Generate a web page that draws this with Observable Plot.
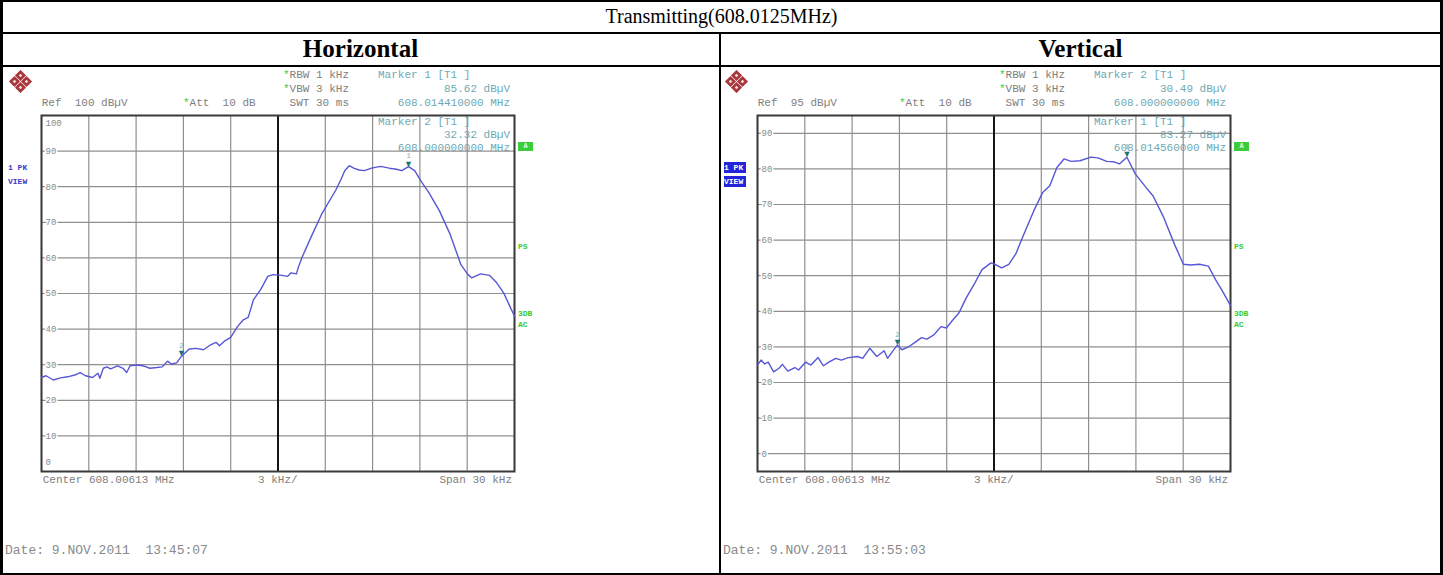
<!DOCTYPE html>
<html>
<head>
<meta charset="utf-8">
<script src="https://cdn.jsdelivr.net/npm/d3@7"></script>
<script src="https://cdn.jsdelivr.net/npm/@observablehq/plot@0.6"></script>
<style>
  body { margin: 0; background: #fff; }
  #page { position: relative; width: 1443px; height: 575px; overflow: hidden; background: #fff; }
  .rule { position: absolute; background: #000; z-index: 5; }
  .panel { position: absolute; top: 0; width: 719px; height: 575px; }
  .panel svg { position: absolute; left: 0; top: 67px; }
  .t { position: absolute; white-space: pre; font-family: "Liberation Mono", monospace; font-size: 11px; line-height: 13px; color: #808080; }
  .serif { position: absolute; font-family: "Liberation Serif", "Times New Roman", serif; color: #000; text-align: center; white-space: pre; }
</style>
</head>
<body>
<div id="page"></div>
<script>
// Spectrum analyser settings shared by both sweeps
const centerMHz = 608.00613;
const spanKHz = 30;
const divKHz = 3;
const settings = ["RBW 1 kHz", "VBW 3 kHz", "Att  10 dB", "SWT 30 ms"];

const panelTitles = ["Horizontal", "Vertical"];
const refLevels = [100, 95];
const sweepDates = ["9.NOV.2011  13:45:07", "9.NOV.2011  13:55:03"];

// Horizontal polarisation trace: offset from centre (kHz) and level (dBµV)
const hOffsetKHz = [-15.00, -14.71, -14.25, -13.80, -13.34, -12.89, -12.55, -12.21, -11.76, -11.42, -11.30, -11.08,
  -10.85, -10.62, -10.17, -9.83, -9.60, -9.38, -8.92, -8.58, -8.36, -8.13, -7.68, -7.34, -7.00, -6.77, -6.43,
  -6.13, -5.63, -5.18, -4.73, -4.27, -3.93, -3.71, -3.37, -3.00, -2.57, -2.23, -1.89, -1.55, -1.10, -0.65,
  -0.31, 0.26, 0.60, 0.83, 1.17, 1.28, 1.51, 2.08, 2.76, 3.66, 4.00, 4.23, 4.52, 4.80, 5.14, 5.48, 5.93, 6.50,
  7.06, 7.51, 7.85, 8.28, 8.67, 9.12, 9.56, 10.24, 10.92, 11.60, 12.05, 12.28, 12.85, 13.41, 13.87, 14.32, 15.00];
const hLevel = [26.4, 26.9, 25.7, 26.3, 26.6, 27.1, 27.8, 26.9, 26.4, 27.6, 26.2, 29.0,
  29.4, 28.8, 29.7, 29.0, 27.8, 29.7, 29.9, 29.7, 29.4, 29.0, 29.2, 29.4, 31.0, 30.2, 30.5,
  32.32, 34.4, 34.6, 34.2, 35.6, 36.3, 35.3, 36.7, 37.7, 40.7, 42.5, 43.3, 48.3, 51.1, 54.8,
  55.3, 55.1, 54.8, 55.8, 55.5, 57.2, 60.0, 65.7, 72.2, 79.0, 82.1, 84.5, 85.9, 85.2, 84.7, 84.5, 85.2, 85.7,
  85.2, 84.9, 84.5, 85.62, 84.5, 81.2, 78.4, 73.2, 66.6, 58.1, 55.3, 54.4, 55.5, 55.1, 53.0, 50.1, 43.6];

// Vertical polarisation trace
const vOffsetKHz = [-15.00, -14.77, -14.55, -14.32, -13.98, -13.64, -13.42, -13.08, -12.63, -12.40, -11.95, -11.61,
  -11.16, -10.82, -10.48, -10.03, -9.69, -9.24, -8.67, -8.33, -7.88, -7.43, -6.97, -6.75, -6.41, -6.13,
  -5.84, -5.39, -4.94, -4.60, -4.26, -3.81, -3.36, -3.02, -2.68, -2.23, -1.77, -1.21, -0.76, -0.19, 0.15,
  0.49, 0.94, 1.39, 1.84, 2.52, 3.09, 3.54, 3.99, 4.44, 4.89, 5.46, 6.14, 6.59, 7.15, 7.61, 7.95, 8.43,
  8.96, 9.64, 10.09, 10.77, 11.45, 12.01, 12.47, 13.03, 13.60, 14.05, 14.50, 15.00];
const vLevel = [24.9, 26.3, 25.2, 25.7, 23.0, 24.0, 25.1, 23.2, 24.2, 23.5, 25.7, 24.9,
  27.0, 24.7, 25.7, 26.8, 26.3, 27.0, 27.3, 26.8, 29.6, 27.3, 28.9, 26.8, 28.9, 30.49,
  29.2, 30.1, 31.5, 32.6, 32.2, 33.4, 35.7, 35.3, 37.2, 39.5, 43.7, 48.0, 51.7, 53.6, 53.0,
  52.2, 53.2, 56.2, 61.1, 68.2, 73.4, 75.3, 80.4, 82.8, 82.1, 82.3, 83.3, 83.1, 82.1, 82.0, 81.4, 83.27,
  78.6, 74.8, 72.4, 66.3, 58.8, 53.2, 53.0, 53.2, 52.7, 48.9, 45.6, 41.6];

// Markers: id, frequency (MHz), level (dBµV); the first is listed above the screen, the second inside it
const hMarkerId = [1, 2];
const hMarkerMHz = [608.01441, 608.000000];
const hMarkerLevel = [85.62, 32.32];
const vMarkerId = [2, 1];
const vMarkerMHz = [608.000000, 608.01456];
const vMarkerLevel = [30.49, 83.27];

// Level grid labels (dBµV)
const hYTicks = [100, 90, 80, 70, 60, 50, 40, 30, 20, 10, 0];
const vYTicks = [90, 80, 70, 60, 50, 40, 30, 20, 10, 0];

const page = document.getElementById("page");
const TEAL = "#6fa9b3";
const GREEN = "#36c936";

function el(parent, cls, css, html) {
  const d = document.createElement("div");
  if (cls) d.className = cls;
  Object.assign(d.style, css);
  if (html !== undefined) d.innerHTML = html;
  parent.appendChild(d);
  return d;
}

function put(parent, html, x, cy, o = {}) {
  const size = o.size || 11;
  const lh = size + 2;
  const css = { top: (cy - lh / 2) + "px", fontSize: size + "px", lineHeight: lh + "px" };
  if (o.align === "right") Object.assign(css, { left: (x - 400) + "px", width: "400px", textAlign: "right" });
  else if (o.align === "center") Object.assign(css, { left: (x - 200) + "px", width: "400px", textAlign: "center" });
  else css.left = x + "px";
  if (o.color) css.color = o.color;
  if (o.weight) css.fontWeight = o.weight;
  if (o.bg) css.background = o.bg;
  if (o.family) css.fontFamily = o.family;
  return el(parent, "t", css, html);
}

const star = `<span style="color:${GREEN}">*</span>`;

// instrument maker's diamond badge
function logo(parent) {
  const ns = "http://www.w3.org/2000/svg";
  const s = document.createElementNS(ns, "svg");
  s.setAttribute("width", 27); s.setAttribute("height", 23);
  Object.assign(s.style, { position: "absolute", left: "7px", top: "70px" });
  const parts = [[13.5, 5.5], [7.5, 11.5], [19.5, 11.5], [13.5, 17.5]];
  for (const [cx, cy] of parts) {
    const p = document.createElementNS(ns, "polygon");
    p.setAttribute("points", `${cx},${cy - 5.6} ${cx + 5.6},${cy} ${cx},${cy + 5.6} ${cx - 5.6},${cy}`);
    p.setAttribute("fill", "#a8363b");
    s.appendChild(p);
    const q = document.createElementNS(ns, "polygon");
    q.setAttribute("points", `${cx},${cy - 1.8} ${cx + 1.8},${cy} ${cx},${cy + 1.8} ${cx - 1.8},${cy}`);
    q.setAttribute("fill", "#f3dede");
    s.appendChild(q);
  }
  parent.appendChild(s);
}

function drawPanel(i, cfg) {
  const p = el(page, "panel", { left: (i === 0 ? 0 : 716) + "px" });
  const ref = refLevels[i];
  const mk = cfg.markerId.map((id, k) => ({
    id, mhz: cfg.markerMHz[k], level: cfg.markerLevel[k],
    x: (cfg.markerMHz[k] - centerMHz) * 1000, y: cfg.markerLevel[k]
  }));
  const trace = cfg.offsets.map((x, k) => ({ x, y: cfg.levels[k] }));
  const xTicks = d3.range(-spanKHz / 2, spanKHz / 2 + 1e-9, divKHz);
  const yTicks = cfg.yTicks;
  const yMin = ref - 100;

  // readout of the second marker sits inside the screen, beneath the graticule
  const m2 = mk[1];
  put(p, `Marker ${m2.id} [T1 ]`, 378, 122, { color: TEAL });
  put(p, `${m2.level.toFixed(2)} dBµV`, 510, 135, { color: TEAL, align: "right" });
  put(p, `${m2.mhz.toFixed(9)} MHz`, 510, 148, { color: TEAL, align: "right" });

  const labelStyle = { fontFamily: "Liberation Mono", fontSize: 9, fill: "#8a8a8a", stroke: "white", strokeWidth: 3, textAnchor: "start", frameAnchor: "left", dx: 4 };
  const chart = Plot.plot({
    width: 719, height: 506,
    marginLeft: 41, marginRight: 205, marginTop: 48, marginBottom: 102,
    x: { domain: [-spanKHz / 2, spanKHz / 2], axis: null },
    y: { domain: [yMin, ref], axis: null },
    style: { background: "transparent", overflow: "visible" },
    marks: [
      Plot.ruleY(yTicks, { stroke: "#8f8f8f", strokeWidth: 1.2 }),
      Plot.ruleX(xTicks.filter(d => d !== 0), { stroke: "#8f8f8f", strokeWidth: 1.2 }),
      Plot.ruleX([0], { stroke: "#151515", strokeWidth: 2 }),
      Plot.frame({ stroke: "#3a3a3a", strokeWidth: 2 }),
      Plot.text(yTicks.filter(d => d !== ref && d !== yMin), { y: d => d, text: d => String(d), ...labelStyle }),
      Plot.text(yTicks.filter(d => d === ref), { y: d => d, text: d => String(d), ...labelStyle, dy: 8 }),
      Plot.text(yTicks.filter(d => d === yMin), { y: d => d, text: d => String(d), ...labelStyle, dy: -9 }),
      Plot.line(trace, { x: "x", y: "y", stroke: "#5757d6", strokeWidth: 1.4 }),
      Plot.text(mk, { x: "x", y: "y", text: () => "▼", fill: "#1d7474", fontSize: 9, dy: -3 }),
      Plot.text(mk, { x: "x", y: "y", text: d => String(d.id), fill: "#79b3b8", fontSize: 8, fontFamily: "Liberation Mono", dy: -11 })
    ]
  });
  p.appendChild(chart);

  logo(p);
  const m1 = mk[0];
  put(p, star + settings[0], 283, 75);
  put(p, star + settings[1], 283, 89);
  put(p, ` ${settings[3]}`, 283, 103);
  put(p, `Ref  ${ref} dBµV`, 41.7, 103);
  put(p, star + settings[2], 183, 103);
  put(p, `Marker ${m1.id} [T1 ]`, 378, 75, { color: TEAL });
  put(p, `${m1.level.toFixed(2)} dBµV`, 510, 89, { color: TEAL, align: "right" });
  put(p, `${m1.mhz.toFixed(9)} MHz`, 510, 103, { color: TEAL, align: "right" });

  // trace / detector badges
  if (i === 0) {
    put(p, "1 PK", 8, 168, { size: 8, weight: "bold", color: "#3b3bc8" });
    put(p, "VIEW", 8, 181.5, { size: 8, weight: "bold", color: "#3b3bc8" });
  } else {
    el(p, "t", { left: "8px", top: "162px", width: "22px", height: "11px", background: "#2424d8", color: "#fff", fontSize: "8px", lineHeight: "11px", fontWeight: "bold" }, "1 PK");
    el(p, "t", { left: "8px", top: "175.5px", width: "22px", height: "11px", background: "#2424d8", color: "#fff", fontSize: "8px", lineHeight: "11px", fontWeight: "bold" }, "VIEW");
  }
  el(p, "t", { left: "518px", top: "142px", width: "15px", height: "9px", background: "#3ccc3c", color: "#dfffdf", fontSize: "7px", lineHeight: "9px", textAlign: "center", fontWeight: "bold" }, "A");
  put(p, "PS", 518, 247, { size: 8, weight: "bold", color: GREEN });
  put(p, "3DB", 518, 314, { size: 8, weight: "bold", color: GREEN });
  put(p, "AC", 518, 325, { size: 8, weight: "bold", color: GREEN });

  put(p, `Center ${centerMHz.toFixed(5)} MHz`, 42.7, 480);
  put(p, `${divKHz} kHz/`, 258, 480);
  put(p, `Span ${spanKHz} kHz`, 512, 480, { align: "right" });
  put(p, `Date: ${sweepDates[i]}`, i === 0 ? 5 : 7, 550, { size: 13, color: "#8a8a8a" });
}

drawPanel(0, { offsets: hOffsetKHz, levels: hLevel, markerId: hMarkerId, markerMHz: hMarkerMHz, markerLevel: hMarkerLevel, yTicks: hYTicks });
drawPanel(1, { offsets: vOffsetKHz, levels: vLevel, markerId: vMarkerId, markerMHz: vMarkerMHz, markerLevel: vMarkerLevel, yTicks: vYTicks });

// table titles
el(page, "serif", { left: "0px", width: "1443px", top: "4px", fontSize: "20px", lineHeight: "24px" }, `Transmitting(${(608.0125).toFixed(4)}MHz)`);
el(page, "serif", { left: "2px", width: "717px", top: "35px", fontSize: "25px", lineHeight: "28px", fontWeight: "bold" }, panelTitles[0]);
el(page, "serif", { left: "721px", width: "719px", top: "35px", fontSize: "25px", lineHeight: "28px", fontWeight: "bold" }, panelTitles[1]);

// table borders
const rules = [
  [0, 0, 1443, 2], [0, 0, 3, 575], [1440, 0, 3, 575], [0, 573, 1443, 2],
  [0, 32, 1443, 2], [0, 65, 1443, 2], [719, 32, 2, 543]
];
for (const [x, y, w, h] of rules) el(page, "rule", { left: x + "px", top: y + "px", width: w + "px", height: h + "px" });
</script>
</body>
</html>
